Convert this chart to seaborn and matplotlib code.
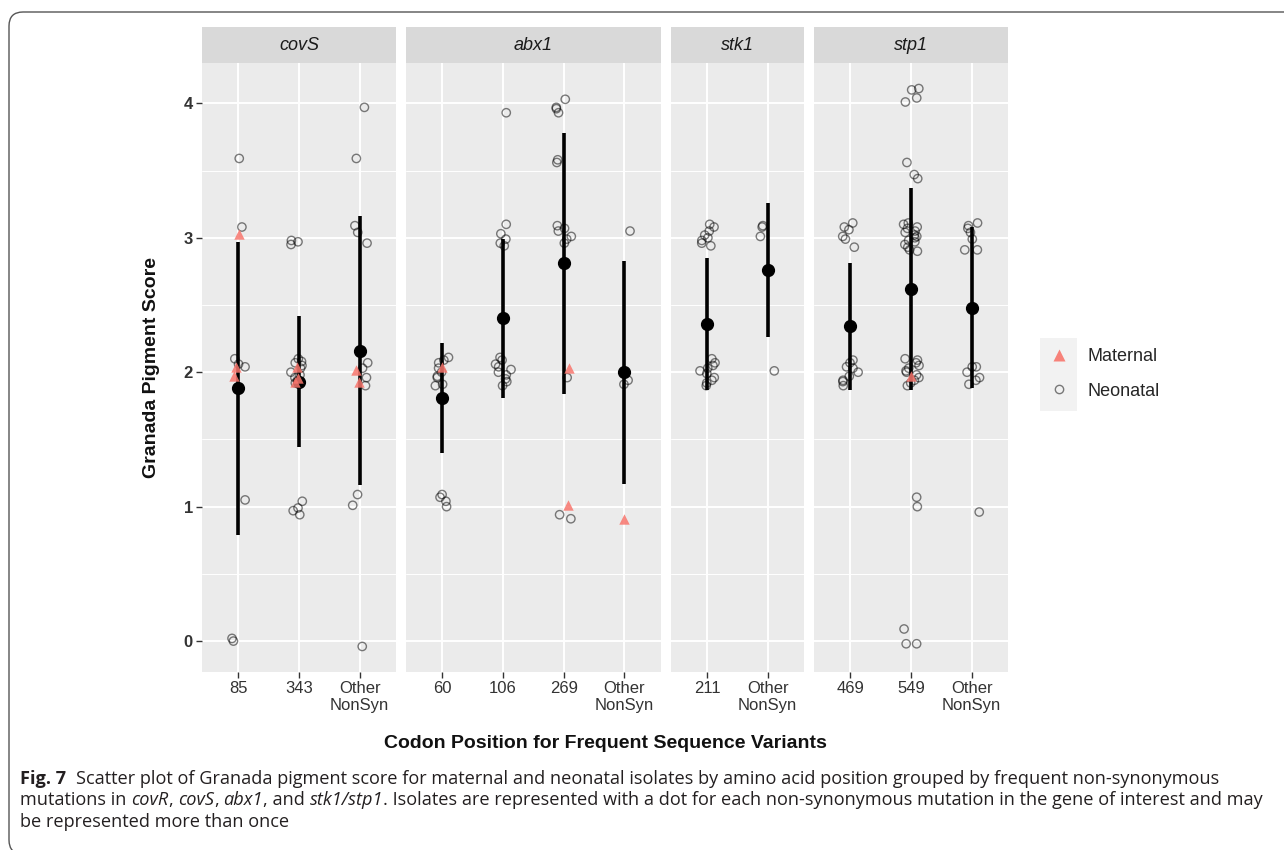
import numpy as np
import pandas as pd
import matplotlib
matplotlib.use("Agg")
import matplotlib.pyplot as plt
import seaborn as sns
from matplotlib.lines import Line2D
from matplotlib.patches import Rectangle, FancyBboxPatch
from matplotlib.ticker import MultipleLocator
from matplotlib.transforms import IdentityTransform

W, H = 1284, 850

# facet genes and their codon categories
genes = ["covS", "abx1", "stk1", "stp1"]
covs_codons = ["85", "343", "Other\nNonSyn"]
abx1_codons = ["60", "106", "269", "Other\nNonSyn"]
stk1_codons = ["211", "Other\nNonSyn"]
stp1_codons = ["469", "549", "Other\nNonSyn"]

# Granada pigment scores (jittered values)
covs_85_neo = [3.59, 3.08, 2.10, 2.06, 2.04, 1.05, 0.02, 0.00]
covs_85_mat = [3.03, 2.04, 1.97]
covs_343_neo = [2.98, 2.97, 2.95, 2.10, 2.08, 2.07, 2.05, 2.03, 2.00, 1.98, 1.96,
                1.94, 1.92, 1.04, 0.99, 0.97, 0.94]
covs_343_mat = [2.04, 1.96, 1.93]
covs_oth_neo = [3.97, 3.59, 3.09, 3.04, 2.96, 2.07, 2.03, 1.96, 1.90, 1.09, 1.01, -0.04]
covs_oth_mat = [2.02, 1.93]

abx1_60_neo = [2.11, 2.09, 2.07, 2.03, 2.00, 1.97, 1.96, 1.91, 1.90, 1.09, 1.07, 1.04, 1.00]
abx1_60_mat = [2.04]
abx1_106_neo = [3.93, 3.10, 3.03, 2.99, 2.96, 2.94, 2.11, 2.09, 2.06, 2.04, 2.02, 2.00,
                1.98, 1.95, 1.93, 1.90]
abx1_106_mat = []
abx1_269_neo = [4.03, 3.97, 3.96, 3.93, 3.58, 3.56, 3.09, 3.07, 3.05, 3.01, 2.99, 2.96,
                1.96, 0.94, 0.91]
abx1_269_mat = [2.03, 1.01]
abx1_oth_neo = [3.05, 1.94, 1.91]
abx1_oth_mat = [0.91]

stk1_211_neo = [3.10, 3.08, 3.05, 3.02, 3.00, 2.98, 2.96, 2.94, 2.10, 2.07, 2.05, 2.03,
                2.01, 1.99, 1.96, 1.94, 1.92, 1.90]
stk1_211_mat = []
stk1_oth_neo = [3.09, 3.08, 3.01, 2.01]
stk1_oth_mat = []

stp1_469_neo = [3.11, 3.08, 3.06, 3.01, 2.99, 2.93, 2.09, 2.07, 2.04, 2.03, 2.00, 1.97,
                1.94, 1.93, 1.90]
stp1_469_mat = []
stp1_549_neo = [4.11, 4.10, 4.04, 4.01, 3.56, 3.47, 3.44, 3.11, 3.10, 3.08, 3.07, 3.05,
                3.04, 3.02, 3.01, 3.00, 2.98, 2.97, 2.95, 2.93, 2.91, 2.90, 2.10, 2.09,
                2.07, 2.05, 2.03, 2.01, 2.00, 1.98, 1.96, 1.94, 1.92, 1.90, 1.07, 1.00,
                0.09, -0.02, -0.02]
stp1_549_mat = [1.97]
stp1_oth_neo = [3.11, 3.09, 3.07, 3.04, 2.99, 2.91, 2.91, 2.04, 2.04, 2.00, 1.96, 1.94,
                1.91, 0.96]
stp1_oth_mat = []

# mean and sd per codon (summary bars)
covs_mean = [1.88, 1.93, 2.16]
covs_sd = [1.09, 0.49, 1.00]
abx1_mean = [1.81, 2.40, 2.81, 2.00]
abx1_sd = [0.41, 0.59, 0.97, 0.83]
stk1_mean = [2.36, 2.76]
stk1_sd = [0.49, 0.50]
stp1_mean = [2.34, 2.62, 2.48]
stp1_sd = [0.47, 0.75, 0.60]

# build long table
groups = [
    ("covS", covs_codons, [covs_85_neo, covs_343_neo, covs_oth_neo], [covs_85_mat, covs_343_mat, covs_oth_mat]),
    ("abx1", abx1_codons, [abx1_60_neo, abx1_106_neo, abx1_269_neo, abx1_oth_neo],
     [abx1_60_mat, abx1_106_mat, abx1_269_mat, abx1_oth_mat]),
    ("stk1", stk1_codons, [stk1_211_neo, stk1_oth_neo], [stk1_211_mat, stk1_oth_mat]),
    ("stp1", stp1_codons, [stp1_469_neo, stp1_549_neo, stp1_oth_neo], [stp1_469_mat, stp1_549_mat, stp1_oth_mat]),
]
rows = []
for gene, cats, neos, mats in groups:
    for c, neo, mat in zip(cats, neos, mats):
        rows += [(gene, c, "Neonatal", v) for v in neo]
        rows += [(gene, c, "Maternal", v) for v in mat]
df = pd.DataFrame(rows, columns=["gene", "codon", "source", "score"])

summaries = {"covS": (covs_mean, covs_sd), "abx1": (abx1_mean, abx1_sd),
             "stk1": (stk1_mean, stk1_sd), "stp1": (stp1_mean, stp1_sd)}

sns.set_style("darkgrid", {"axes.facecolor": "#EBEBEB", "grid.color": "white"})
plt.rcParams["font.family"] = ["Liberation Sans", "DejaVu Sans"]

fig = plt.figure(figsize=(W / 100, H / 100), dpi=100)
gs = fig.add_gridspec(1, 4, width_ratios=[3.2, 4.2, 2.2, 3.2], left=202 / W, right=1008 / W,
                      top=1 - 63 / H, bottom=1 - 672 / H, wspace=0.0515)

np.random.seed(3)
for i, (gene, cats, _, _) in enumerate(groups):
    ax = fig.add_subplot(gs[i])
    sub = df[df.gene == gene]
    neo = sub[sub.source == "Neonatal"]
    mat = sub[sub.source == "Maternal"]
    sns.stripplot(data=neo, x="codon", y="score", order=cats, ax=ax, jitter=0.14,
                  marker="o", size=6, color="black", facecolor="none",
                  edgecolor=(0, 0, 0, 0.5), linewidth=1.0, zorder=3)
    if len(mat):
        sns.stripplot(data=mat, x="codon", y="score", order=cats, ax=ax, jitter=0.14,
                      marker="^", size=7.5, color="#F8766D", linewidth=0, alpha=0.85, zorder=4)
    means, sds = summaries[gene]
    ax.errorbar(cats, means, yerr=sds, fmt="o", color="black", ms=8.5,
                elinewidth=2.6, capsize=0, zorder=2)

    ax.set_xlim(-0.6, len(cats) - 0.4)
    ax.set_ylim(-0.23, 4.30)
    ax.set_yticks([0, 1, 2, 3, 4])
    ax.yaxis.set_minor_locator(MultipleLocator(0.5))
    ax.set_axisbelow(True)
    ax.grid(True, which="major", axis="both", color="white", lw=1.4)
    ax.grid(True, which="minor", axis="y", color="white", lw=0.7)
    ax.set_xlabel("")
    ax.set_ylabel("")
    for s in ax.spines.values():
        s.set_visible(False)
    ax.tick_params(which="major", length=4, width=1, color="#333333", labelsize=12,
                   labelcolor="#333333", pad=2.5, bottom=True, left=True)
    ax.tick_params(which="minor", length=0)
    if i == 0:
        for lbl in ax.get_yticklabels():
            lbl.set_fontweight("bold")
    else:
        ax.tick_params(axis="y", left=False, labelleft=False)

    # facet strip
    ax.add_patch(Rectangle((0, 1), 1, 36 / 609, transform=ax.transAxes, clip_on=False,
                           fc="#D9D9D9", ec="none"))
    ax.text(0.5, 1 + 18 / 609, gene, transform=ax.transAxes, ha="center", va="center",
            style="italic", fontsize=13, color="#1A1A1A")

fig.text(152 / W, 1 - 367 / H, "Granada Pigment Score", rotation=90, ha="center",
         va="center", fontsize=14, fontweight="bold", color="#111111")
fig.text(605 / W, 1 - 743 / H, "Codon Position for Frequent Sequence Variants", ha="center",
         va="center", fontsize=14, fontweight="bold", color="#111111")

# legend
fig.add_artist(Rectangle((1040 / W, 1 - 411 / H), 37 / W, 73 / H, transform=fig.transFigure,
                         fc="#F2F2F2", ec="none"))
handles = [Line2D([], [], ls="none", marker="^", ms=8.5, mfc="#F8766D", mec="none", alpha=0.9),
           Line2D([], [], ls="none", marker="o", ms=6, mfc="none", mec=(0, 0, 0, 0.5), mew=1)]
fig.legend(handles, ["Maternal", "Neonatal"], loc="center left",
           bbox_to_anchor=(1040 / W, 1 - 374 / H), frameon=False, fontsize=13,
           handlelength=2.05, handletextpad=0.6, labelspacing=0.95, borderpad=0,
           borderaxespad=0)

# page frame
fig.add_artist(FancyBboxPatch((9, -4), 1300, 842, boxstyle="round,pad=0,rounding_size=14",
                              transform=IdentityTransform(), fc="none", ec="#555555", lw=1))

# caption with mixed styles
cap_font = ["Open Sans", "DejaVu Sans"]
cap_col = "#231F20"
renderer = fig.canvas.get_renderer()


def style_kw(kind):
    if kind == "b":
        return {"fontweight": "bold"}
    if kind == "i":
        return {"fontstyle": "italic"}
    return {}


def width_of(s, size, **kw):
    t = fig.text(0, 0, s, fontsize=size, family=cap_font, **kw)
    w = t.get_window_extent(renderer).width
    t.remove()
    return w


def line_width(pieces, size):
    sp = width_of("a a", size) - width_of("aa", size)
    return sum(width_of(txt, size, **style_kw(k)) + g * sp for txt, k, g in pieces)


def put_line(pieces, x0, y, size):
    sp = width_of("a a", size) - width_of("aa", size)
    x = x0
    for txt, kind, gap in pieces:
        t = fig.text(x / W, 1 - y / H, txt, fontsize=size, family=cap_font, color=cap_col,
                     ha="left", va="baseline", **style_kw(kind))
        x += t.get_window_extent(renderer).width + gap * sp
    return x


line1 = [("Fig. 7", "b", 2),
         ("Scatter plot of Granada pigment score for maternal and neonatal isolates by amino "
          "acid position grouped by frequent non-synonymous", "r", 0)]
line2 = [("mutations in", "r", 1), ("covR", "i", 0), (",", "r", 1), ("covS", "i", 0),
         (",", "r", 1), ("abx1", "i", 0), (", and", "r", 1), ("stk1/stp1", "i", 0),
         (". Isolates are represented with a dot for each non-synonymous mutation in the "
          "gene of interest and may", "r", 0)]
line3 = [("be represented more than once", "r", 0)]

# fit caption size so that the second line spans the same width as in the figure
cap_size = 11.0 * 1248 / line_width(line2, 11.0)
put_line(line1, 20, 784, cap_size)
put_line(line2, 20, 805, cap_size)
put_line(line3, 20, 827, cap_size)

fig.savefig("out.png", dpi=100)
